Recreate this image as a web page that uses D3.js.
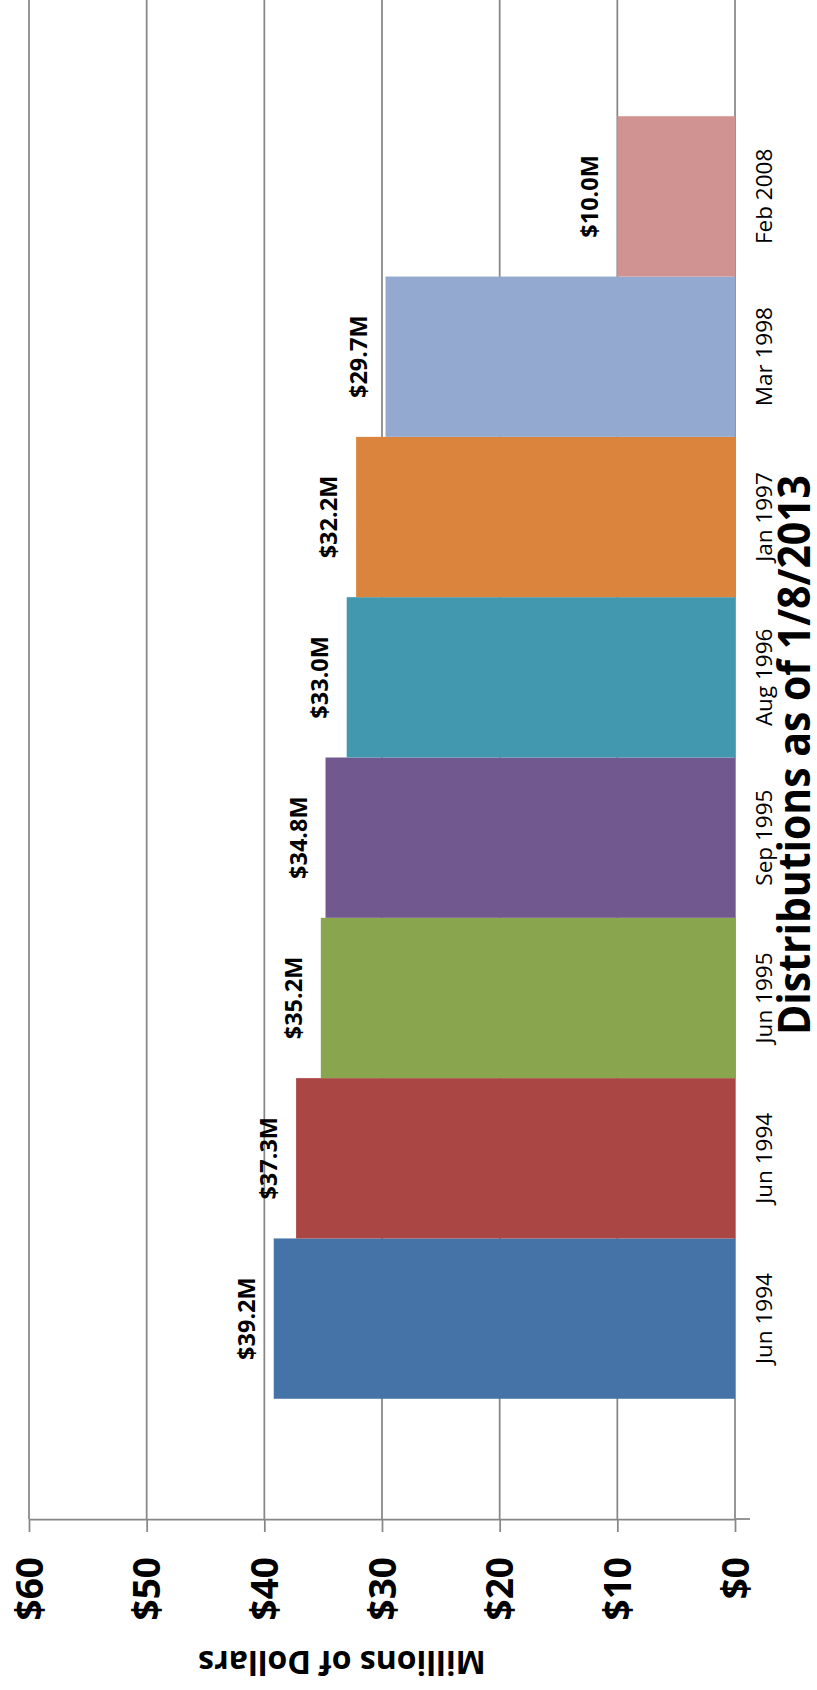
<!DOCTYPE html>
<html>
<head>
<meta charset="utf-8">
<script src="https://cdn.jsdelivr.net/npm/d3@7"></script>
<style>
    body { margin: 0; background: #fff; }
    text { font-family: 'Open Sans', sans-serif; fill: #000; }
</style>
</head>
<body>
<div id="chart"></div>
<script>
// Chart data
const categories = ['Jun 1994', 'Jun 1994', 'Jun 1995', 'Sep 1995', 'Aug 1996', 'Jan 1997', 'Mar 1998', 'Feb 2008'];
const values = [39.2, 37.3, 35.2, 34.8, 33.0, 32.2, 29.7, 10.0];
const colors = ['#4572A7', '#AA4643', '#89A54E', '#71588F', '#4198AF', '#DB843D', '#93A9CF', '#D19392'];
const valueTicks = [0, 10, 20, 30, 40, 50, 60];
const chartTitle = 'Distributions as of 1/8/2013';
const axisTitle = 'Millions of Dollars';

const data = categories.map((c, i) => ({ index: i, category: c, value: values[i], color: colors[i] }));

// Set up the SVG container
const width = 817;
const height = 1690;
const axisY = 1519;
const gridColor = '#878787';

const svg = d3.select('#chart')
    .append('svg')
    .attr('width', width)
    .attr('height', height);

// Value scale runs right to left (the chart is turned on its side)
const x = d3.scaleLinear()
    .domain([0, 60])
    .range([735, 29]);

// Category scale, first bar at the bottom
const y = d3.scaleBand()
    .domain(data.map(d => d.index))
    .range([axisY, -4])
    .paddingInner(0)
    .paddingOuter(0.75);

// Gridlines
svg.append('g')
    .selectAll('line')
    .data(valueTicks)
    .enter()
    .append('line')
    .attr('x1', d => x(d))
    .attr('x2', d => x(d))
    .attr('y1', 0)
    .attr('y2', axisY)
    .attr('stroke', gridColor)
    .attr('stroke-width', 1.75);

// Bars
svg.append('g')
    .selectAll('rect')
    .data(data)
    .enter()
    .append('rect')
    .attr('x', d => x(d.value))
    .attr('y', d => y(d.index))
    .attr('width', d => x(0) - x(d.value))
    .attr('height', y.bandwidth())
    .attr('fill', d => d.color);

// Value axis
const xAxis = svg.append('g')
    .attr('transform', `translate(0, ${axisY})`)
    .call(d3.axisBottom(x)
        .tickValues(valueTicks)
        .tickSize(13)
        .tickSizeOuter(0)
        .tickFormat(d => '$' + d));

xAxis.select('.domain')
    .attr('stroke', gridColor)
    .attr('stroke-width', 1.75);

xAxis.selectAll('.tick line')
    .attr('stroke', gridColor)
    .attr('stroke-width', 1.75);

xAxis.selectAll('.tick text')
    .attr('x', 0)
    .attr('y', 0)
    .attr('dy', '0.36em')
    .attr('transform', 'translate(0, 38) rotate(-90)')
    .style('text-anchor', 'end')
    .style('font-family', "'Open Sans', sans-serif")
    .style('font-size', '37px')
    .style('font-weight', 'bold')
    .attr('fill', '#000');

// Category axis end tick
svg.append('line')
    .attr('x1', x(0))
    .attr('x2', x(0) + 15)
    .attr('y1', axisY)
    .attr('y2', axisY)
    .attr('stroke', gridColor)
    .attr('stroke-width', 1.75);

// Category labels
svg.append('g')
    .selectAll('text')
    .data(data)
    .enter()
    .append('text')
    .attr('transform', d => `translate(772, ${y(d.index) + y.bandwidth() / 2}) rotate(-90)`)
    .attr('text-anchor', 'middle')
    .style('font-size', '22.5px')
    .text(d => d.category);

// Data labels
svg.append('g')
    .selectAll('text')
    .data(data)
    .enter()
    .append('text')
    .attr('transform', d => `translate(${x(d.value) - 19}, ${y(d.index) + y.bandwidth() / 2}) rotate(-90)`)
    .attr('text-anchor', 'middle')
    .style('font-size', '23.5px')
    .style('font-weight', 'bold')
    .text(d => '$' + d.value.toFixed(1) + 'M');

// Chart title
svg.append('text')
    .attr('transform', 'translate(810, 755) rotate(-90)')
    .attr('text-anchor', 'middle')
    .attr('textLength', 560)
    .attr('lengthAdjust', 'spacingAndGlyphs')
    .style('font-size', '45px')
    .style('font-weight', 'bold')
    .text(chartTitle);

// Value axis title (upside down)
svg.append('text')
    .attr('transform', 'translate(342, 1651) rotate(180)')
    .attr('text-anchor', 'middle')
    .style('font-size', '32px')
    .style('font-weight', 'bold')
    .text(axisTitle);
</script>
</body>
</html>
